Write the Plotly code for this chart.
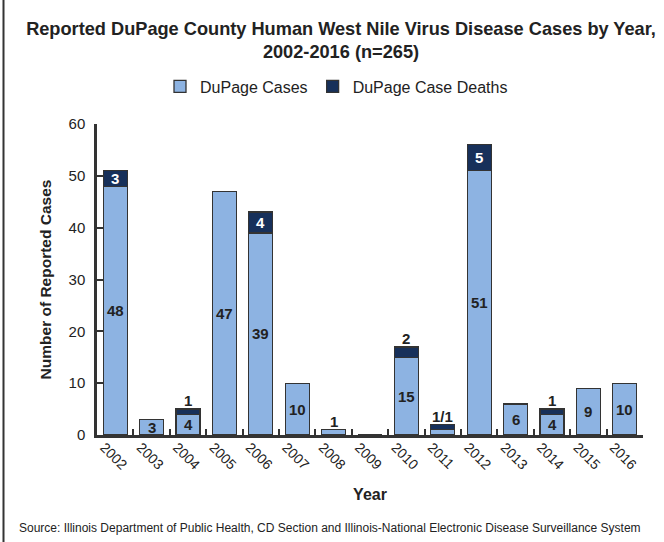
import plotly.graph_objects as go

years = ["2002", "2003", "2004", "2005", "2006", "2007", "2008", "2009",
         "2010", "2011", "2012", "2013", "2014", "2015", "2016"]
cases = [48, 3, 4, 47, 39, 10, 1, 0, 15, 1, 51, 6, 4, 9, 10]
deaths = [3, 0, 1, 0, 4, 0, 0, 0, 2, 1, 5, 0, 1, 0, 0]
# labels drawn inside the case bars ("" = none)
case_in_labels = ["48", "3", "4", "47", "39", "10", "", "", "15", "", "51", "6", "4", "9", "10"]
# labels drawn inside the death segment (white)
death_in_labels = ["3", "", "", "", "4", "", "", "", "", "", "5", "", "", "", ""]
# labels drawn above the bar stack
above_labels = ["", "", "1", "", "", "", "1", "", "2", "1/1", "", "", "1", "", ""]

LIGHT = "#8DB3E2"
DARK = "#17305A"
EDGE = "#333333"
TXT = "#222222"
FONT = "Liberation Sans, Arial, sans-serif"

PLOT_L, PLOT_R, PLOT_T, PLOT_B = 97, 643, 124, 435
PW, PH = PLOT_R - PLOT_L, PLOT_B - PLOT_T

def px_x(px):
    return (px - PLOT_L) / PW

def px_y(py):
    return (PLOT_B - py) / PH

fig = go.Figure()
fig.add_trace(go.Bar(x=years, y=cases, name="DuPage Cases", width=0.66,
                     marker=dict(color=LIGHT, line=dict(color=EDGE, width=1.3))))
fig.add_trace(go.Bar(x=years, y=deaths, name="DuPage Case Deaths", width=0.66,
                     marker=dict(color=DARK, line=dict(color=EDGE, width=1.3))))

LBL = 15
annotations = []
for i, (c, d, ci, di, ab) in enumerate(zip(cases, deaths, case_in_labels, death_in_labels, above_labels)):
    if ci:
        annotations.append(dict(x=i, y=c / 2, text="<b>%s</b>" % ci, showarrow=False,
                                font=dict(size=LBL, color=TXT, family=FONT),
                                xref="x", yref="y"))
    if di:
        annotations.append(dict(x=i, y=c + d / 2, text="<b>%s</b>" % di, showarrow=False,
                                font=dict(size=LBL, color="white", family=FONT),
                                xref="x", yref="y"))
    if ab:
        annotations.append(dict(x=i, y=c + d, text="<b>%s</b>" % ab, showarrow=False,
                                yanchor="bottom", yshift=-2,
                                font=dict(size=LBL, color=TXT, family=FONT),
                                xref="x", yref="y"))

annotations.append(dict(x=px_x(17), y=px_y(528), xref="paper", yref="paper", xanchor="left",
                        yanchor="middle", showarrow=False,
                        text="Source: Illinois Department of Public Health, CD Section and Illinois-National Electronic Disease Surveillance System",
                        font=dict(size=12, color=TXT, family=FONT)))

fig.update_layout(
    width=664, height=542,
    margin=dict(l=PLOT_L, r=664 - PLOT_R, t=PLOT_T, b=542 - PLOT_B, autoexpand=False),
    paper_bgcolor="white", plot_bgcolor="white",
    barmode="stack",
    font=dict(family=FONT, color=TXT),
    title=dict(text="<b>Reported DuPage County Human West Nile Virus Disease Cases by Year,<br>2002-2016 (n=265)</b>",
               x=341 / 664, xref="container", xanchor="center",
               y=1 - 34.5 / 542, yref="container", yanchor="middle",
               font=dict(size=18.2, family=FONT, color=TXT)),
    legend=dict(orientation="h", xref="container", yref="container",
                x=160 / 664, xanchor="left", y=1 - 86.5 / 542, yanchor="middle",
                font=dict(size=16, family=FONT, color=TXT),
                traceorder="normal", itemwidth=30),
    xaxis=dict(type="category", range=[-0.5, len(years) - 0.5],
               tickangle=45, tickson="boundaries", ticks="inside",
               ticklen=6, tickwidth=2, tickcolor=EDGE,
               ticklabelshift=-11, ticklabelstandoff=-4,
               showline=True, linecolor=EDGE, linewidth=2.5,
               tickfont=dict(size=14, family=FONT, color=TXT),
               title=dict(text="<b>Year</b>", font=dict(size=16, family=FONT, color=TXT),
                          standoff=18),
               showgrid=False, zeroline=False),
    yaxis=dict(range=[0, 60], tickvals=[0, 10, 20, 30, 40, 50, 60], ticks="inside",
               ticklen=6, tickwidth=2, tickcolor=EDGE,
               ticklabelstandoff=6,
               showline=True, linecolor=EDGE, linewidth=2.5,
               tickfont=dict(size=15, family=FONT, color=TXT),
               title=dict(text="<b>Number of Reported Cases</b>",
                          font=dict(size=15.5, family=FONT, color=TXT), standoff=14),
               showgrid=False, zeroline=False),
    annotations=annotations,
    shapes=[dict(type="line", xref="paper", yref="paper",
                 x0=px_x(3.5), x1=px_x(3.5),
                 y0=px_y(545), y1=px_y(-3), line=dict(color=EDGE, width=2))],
)

fig.write_html("out.html", config={"displayModeBar": False},
               post_script="document.body.style.margin='0';document.body.style.overflow='hidden';")
